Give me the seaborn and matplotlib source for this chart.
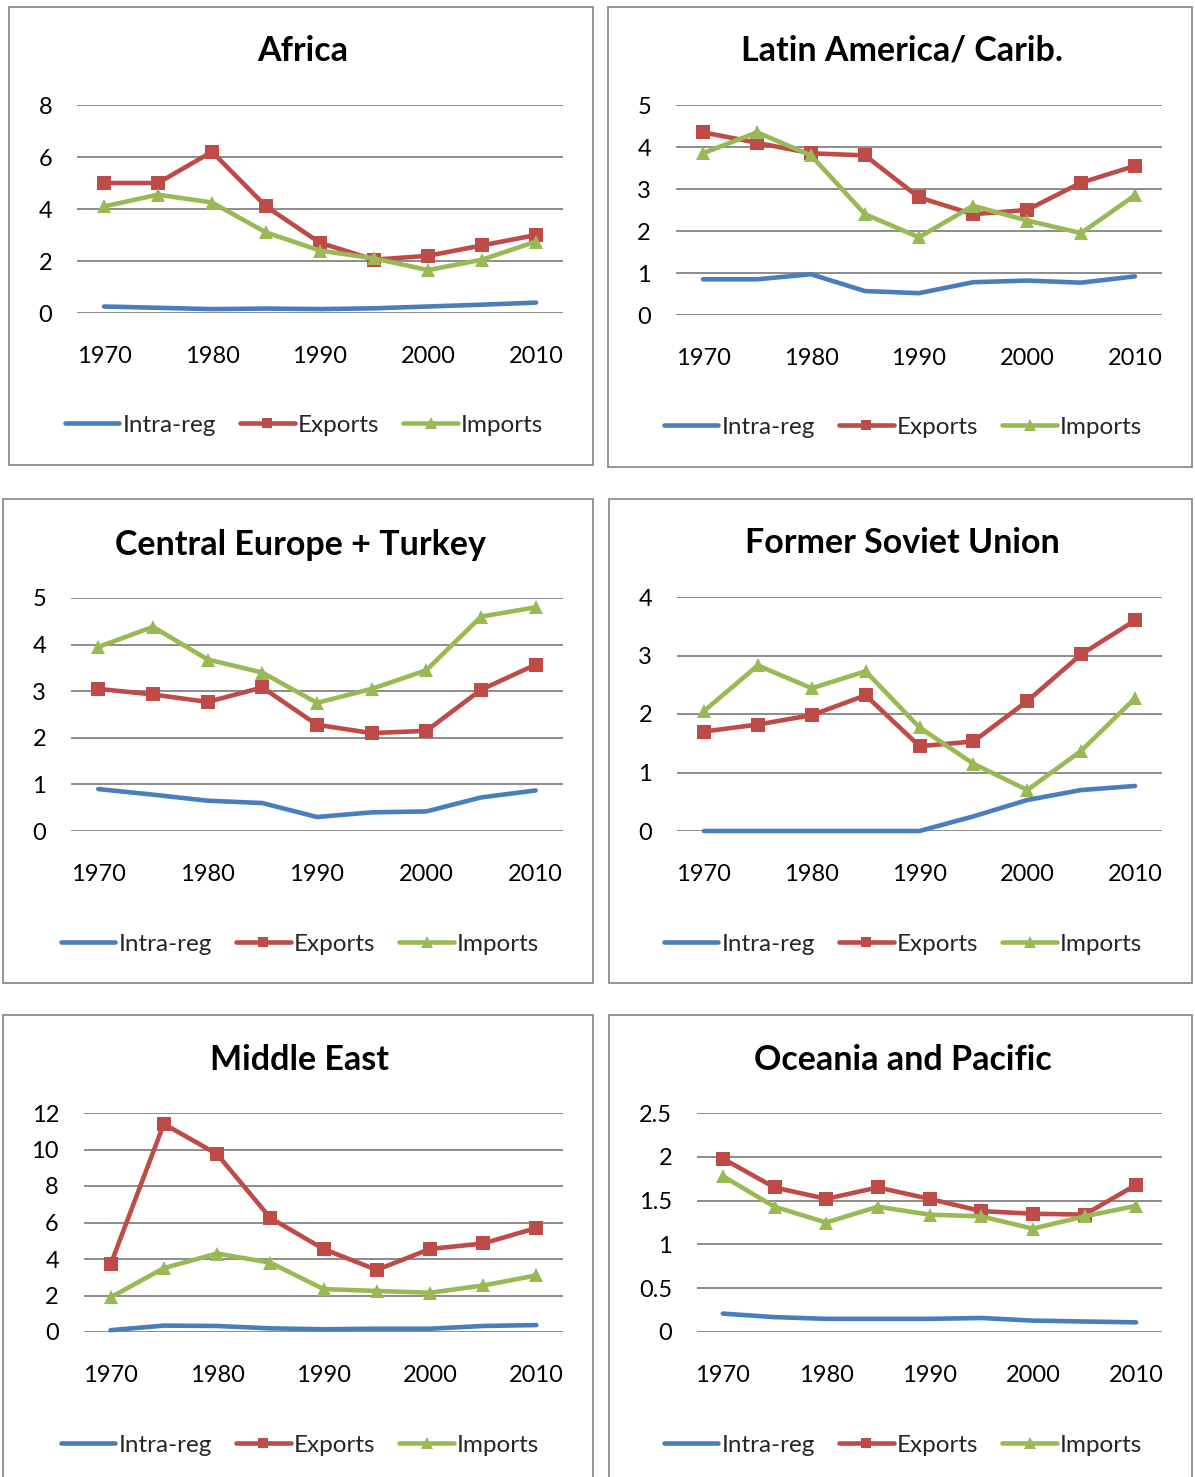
import matplotlib
matplotlib.use("Agg")
import matplotlib.pyplot as plt
import seaborn as sns
import pandas as pd
from matplotlib.patches import Rectangle
from matplotlib.ticker import FuncFormatter

sns.set_theme(style="white")
plt.rcParams['font.family'] = ['Lato', 'DejaVu Sans']

years = [1970, 1975, 1980, 1985, 1990, 1995, 2000, 2005, 2010]
series_names = ["Intra-reg", "Exports", "Imports"]

africa_intra = [0.25, 0.2, 0.15, 0.17, 0.15, 0.18, 0.25, 0.32, 0.4]
africa_exp = [5.0, 5.0, 6.2, 4.1, 2.7, 2.05, 2.2, 2.6, 3.0]
africa_imp = [4.1, 4.55, 4.25, 3.1, 2.4, 2.1, 1.65, 2.05, 2.75]

latam_intra = [0.85, 0.85, 0.97, 0.57, 0.52, 0.78, 0.82, 0.77, 0.92]
latam_exp = [4.35, 4.1, 3.85, 3.8, 2.8, 2.4, 2.5, 3.15, 3.55]
latam_imp = [3.85, 4.35, 3.8, 2.4, 1.85, 2.6, 2.25, 1.95, 2.85]

ceu_intra = [0.9, 0.78, 0.65, 0.6, 0.3, 0.4, 0.42, 0.72, 0.87]
ceu_exp = [3.05, 2.93, 2.77, 3.08, 2.28, 2.1, 2.15, 3.03, 3.57]
ceu_imp = [3.95, 4.38, 3.68, 3.4, 2.75, 3.05, 3.45, 4.6, 4.8]

fsu_intra = [0, 0, 0, 0, 0, 0.25, 0.53, 0.7, 0.77]
fsu_exp = [1.7, 1.82, 1.98, 2.32, 1.45, 1.53, 2.22, 3.02, 3.6]
fsu_imp = [2.05, 2.83, 2.44, 2.73, 1.77, 1.15, 0.7, 1.37, 2.27]

me_intra = [0.1, 0.35, 0.33, 0.2, 0.15, 0.18, 0.18, 0.33, 0.38]
me_exp = [3.7, 11.4, 9.75, 6.25, 4.55, 3.4, 4.55, 4.85, 5.7]
me_imp = [1.9, 3.5, 4.3, 3.8, 2.35, 2.25, 2.15, 2.55, 3.1]

oce_intra = [0.21, 0.17, 0.15, 0.15, 0.15, 0.16, 0.13, 0.12, 0.11]
oce_exp = [1.98, 1.65, 1.52, 1.65, 1.52, 1.38, 1.35, 1.34, 1.68]
oce_imp = [1.78, 1.43, 1.25, 1.43, 1.34, 1.32, 1.18, 1.32, 1.44]

xtick_labels = [1970, 1980, 1990, 2000, 2010]

W, H = 1195, 1477
fig = plt.figure(figsize=(W / 100, H / 100), dpi=100)
fig.patch.set_facecolor("white")

colors = {"Intra-reg": "#4A7EBB", "Exports": "#BE4B48", "Imports": "#98B954"}
markers = {"Intra-reg": None, "Exports": "s", "Imports": "^"}

panels = [
    # title, data, ymax, ystep, box(x0,y0,x1,y1), plot(x0,y0,x1,y1), title_y, legend_y, legend_cx
    ("Africa", (africa_intra, africa_exp, africa_imp), 8, 2,
     (9, 7, 593, 465), (77, 105, 563, 313), 51, 425, 304),
    ("Latin America/ Carib.", (latam_intra, latam_exp, latam_imp), 5, 1,
     (608, 7, 1192, 467), (676, 105, 1162, 315), 51, 427, 903),
    ("Central Europe + Turkey", (ceu_intra, ceu_exp, ceu_imp), 5, 1,
     (3, 499, 593, 983), (71, 598, 563, 831), 545, 944, 300),
    ("Former Soviet Union", (fsu_intra, fsu_exp, fsu_imp), 4, 1,
     (609, 499, 1192, 983), (677, 597, 1162, 831), 543, 944, 903),
    ("Middle East", (me_intra, me_exp, me_imp), 12, 2,
     (3, 1015, 593, 1490), (84, 1113, 563, 1332), 1060, 1445, 300),
    ("Oceania and Pacific", (oce_intra, oce_exp, oce_imp), 2.5, 0.5,
     (609, 1015, 1192, 1490), (697, 1113, 1162, 1332), 1060, 1445, 903),
]

def fx(px):
    return px / W

def fy(py):
    return 1 - py / H

for title, data, ymax, ystep, box, plot, ty, ly, lcx in panels:
    bx0, by0, bx1, by1 = box
    fig.patches.append(Rectangle((fx(bx0), fy(by1)), fx(bx1 - bx0), (by1 - by0) / H,
                                 transform=fig.transFigure, fill=False,
                                 edgecolor="#8C8C8C", linewidth=1.3, zorder=0))
    px0, py0, px1, py1 = plot
    ax = fig.add_axes([fx(px0), fy(py1), fx(px1 - px0), (py1 - py0) / H])
    df = pd.DataFrame({"year": years * 3,
                       "value": list(data[0]) + list(data[1]) + list(data[2]),
                       "series": sum([[s] * len(years) for s in series_names], [])})
    handles = []
    for s in series_names:
        sub = df[df["series"] == s]
        sns.lineplot(data=sub, x="year", y="value", ax=ax, color=colors[s],
                     linewidth=3.3, marker=markers[s], markersize=9.5 if s == "Exports" else 10.5,
                     markeredgewidth=0, legend=False, zorder=3,
                     solid_capstyle="round")
        handles.append(ax.get_lines()[-1])
    ax.set_xlim(1967.5, 2012.5)
    ax.set_ylim(0, ymax)
    yt = []
    v = 0.0
    while v <= ymax + 1e-9:
        yt.append(round(v, 3))
        v += ystep
    ax.set_yticks(yt)
    ax.yaxis.set_major_formatter(FuncFormatter(lambda val, pos: "%g" % val))
    ax.set_xticks(xtick_labels)
    ax.set_xticklabels([str(t) for t in xtick_labels])
    ax.grid(axis="y", color="#8C8C8C", linewidth=1.4)
    ax.grid(axis="x", visible=False)
    ax.set_axisbelow(True)
    for sp in ax.spines.values():
        sp.set_visible(False)
    ax.tick_params(axis="y", length=0, pad=18, labelsize=17, labelcolor="black")
    ax.tick_params(axis="x", length=0, pad=24, labelsize=17, labelcolor="black")
    ax.set_xlabel("")
    ax.set_ylabel("")
    ax.patch.set_alpha(0)
    for ln in ax.get_lines():
        ln.set_clip_on(False)
    fig.text(fx((bx0 + bx1) / 2 + 2), fy(ty), title, ha="center", va="center",
             fontsize=24.5, fontweight="bold", color="black")
    leg = fig.legend(handles, series_names, loc="center",
                     bbox_to_anchor=(fx(lcx), fy(ly)), ncol=3, frameon=False,
                     fontsize=17.5, handlelength=2.25, handletextpad=0.12,
                     columnspacing=1.0, markerscale=0.8)

fig.savefig("out.png", dpi=100, facecolor="white")
